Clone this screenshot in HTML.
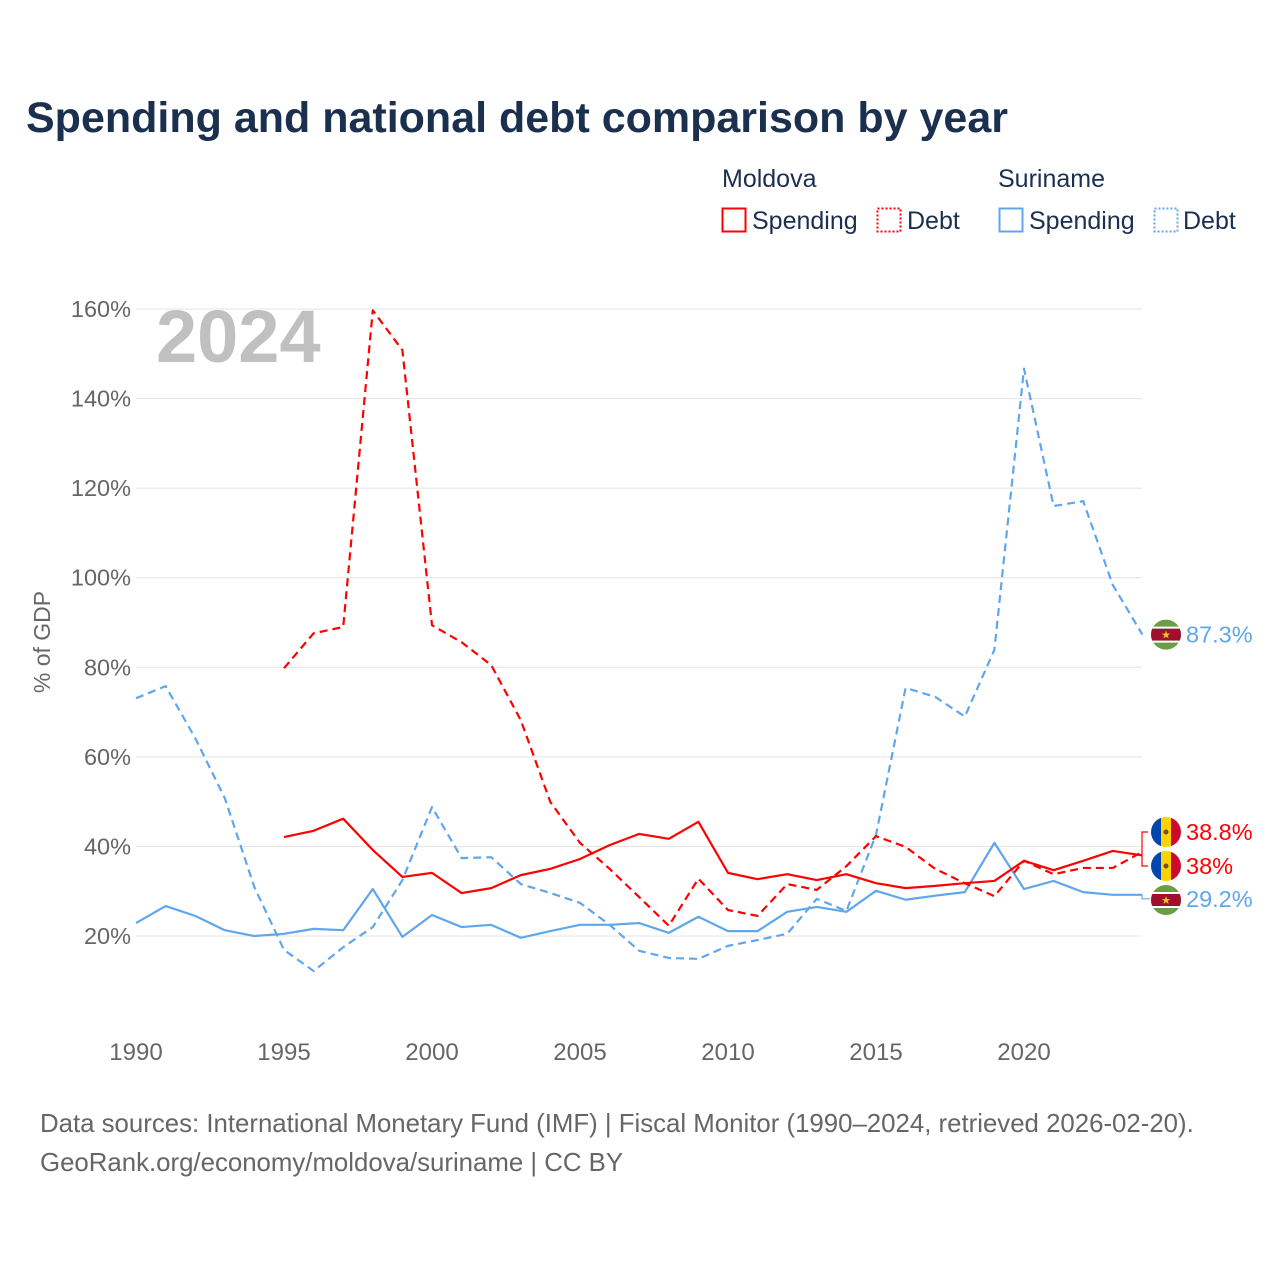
<!DOCTYPE html>
<html><head><meta charset="utf-8"><style>
html,body{margin:0;padding:0;background:#fff;}
body{width:1280px;height:1280px;overflow:hidden;font-family:"Liberation Sans",sans-serif;}
</style></head><body>
<svg id="chart" width="1280" height="1280" xmlns="http://www.w3.org/2000/svg" font-family="Liberation Sans, sans-serif">
<text x="26" y="132" font-size="43" font-weight="bold" fill="#1b2f4e">Spending and national debt comparison by year</text>
<g font-size="25" fill="#1b2f4e">
<text x="722" y="187">Moldova</text>
<text x="998" y="187">Suriname</text>
<g><rect x="722.5" y="208.5" width="23" height="23" fill="none" stroke="#f00" stroke-width="2"/><text x="752" y="229">Spending</text></g>
<g><rect x="877.5" y="208.5" width="23" height="23" fill="none" stroke="#f00" stroke-width="2" stroke-dasharray="2,2"/><text x="907" y="229">Debt</text></g>
<g><rect x="999.5" y="208.5" width="23" height="23" fill="none" stroke="#5fa6ec" stroke-width="2"/><text x="1029" y="229">Spending</text></g>
<g><rect x="1154.5" y="208.5" width="23" height="23" fill="none" stroke="#5fa6ec" stroke-width="2" stroke-dasharray="2,2"/><text x="1183" y="229">Debt</text></g>
</g>
<text x="156" y="362" font-size="74" font-weight="bold" fill="#c0c0c0">2024</text>
<text transform="translate(50,642) rotate(-90)" text-anchor="middle" font-size="23" fill="#666">% of GDP</text>
<g id="grid"></g><g id="yticks"></g><g id="xticks"></g><g id="series"></g><g id="endlabels"></g>
<text x="40" y="1132" font-size="25.8" fill="#666">Data sources: International Monetary Fund (IMF) | Fiscal Monitor (1990–2024, retrieved 2026-02-20).</text>
<text x="40" y="1171" font-size="25.8" fill="#666">GeoRank.org/economy/moldova/suriname | CC BY</text>
</svg>
<script>
const years=[];for(let y=1990;y<=2024;y++)years.push(y);
const yTicks=[20,40,60,80,100,120,140,160];
const xTicks=[1990,1995,2000,2005,2010,2015,2020];
const surDebt=[73.1,75.8,64.2,50.8,30.9,16.9,12.2,17.5,22,32.5,48.8,37.4,37.6,31.6,29.6,27.4,22.5,16.7,15.1,14.9,17.8,19.1,20.5,28.3,25.6,42.6,75.4,73.4,69,83.9,146.7,116,117.1,98.4,87.3];
const surSpend=[22.9,26.7,24.5,21.3,20,20.5,21.6,21.3,30.5,19.8,24.7,22,22.5,19.6,21.1,22.5,22.5,22.9,20.7,24.3,21.1,21.1,25.4,26.5,25.4,30.1,28.1,29,29.8,40.8,30.5,32.3,29.8,29.2,29.2];
const molYears=years.filter(y=>y>=1995);
const molSpend=[42.1,43.5,46.2,39.2,33.2,34.1,29.6,30.7,33.6,35,37.2,40.3,42.8,41.7,45.5,34.1,32.7,33.8,32.5,33.8,31.8,30.7,31.2,31.8,32.3,36.8,34.7,36.8,39,38];
const molDebt=[79.8,87.6,89,159.7,150.8,89.4,85.6,80.5,68.2,49.9,40.8,35,28.7,22.3,32.8,25.8,24.5,31.6,30.3,35.6,42.3,39.9,35,31.8,28.9,36.8,33.8,35.2,35.2,38.8];
const NS="http://www.w3.org/2000/svg";
const X=y=>136+(y-1990)*29.6;
const Y=v=>1025.6-v*4.4786;
function el(t,a,p){const e=document.createElementNS(NS,t);for(const k in a)e.setAttribute(k,a[k]);p.appendChild(e);return e;}
const grid=document.getElementById('grid'),yt=document.getElementById('yticks'),xt=document.getElementById('xticks');
yTicks.forEach(v=>{
 const l=el('line',{x1:136,x2:1142,y1:Y(v),y2:Y(v),stroke:'#e4e4e4','stroke-width':1},grid);
 
 
 const t=el('text',{x:131,y:Y(v)+8,'text-anchor':'end','font-size':23.5,fill:'#666'},yt);t.textContent=v+'%';
 
 
});
xTicks.forEach(y=>{
 const t=el('text',{x:X(y),y:1060,'text-anchor':'middle','font-size':24,fill:'#666'},xt);t.textContent=y;
 
 
});
const sg=document.getElementById('series');
function line(xs,vs,color,dash,name){
 const p=el('polyline',{points:xs.map((y,i)=>X(y)+','+Y(vs[i])).join(' '),fill:'none',stroke:color,'stroke-width':2.2,'stroke-linejoin':'round'},sg);
 if(dash)p.setAttribute('stroke-dasharray','8,5');
 
 
}
line(years,surSpend,'#5fa6ec',false,'series-suriname-spending');
line(years,surDebt,'#5fa6ec',true,'series-suriname-debt');
line(molYears,molSpend,'#f00',false,'series-moldova-spending');
line(molYears,molDebt,'#f00',true,'series-moldova-debt');
const eg=document.getElementById('endlabels');
function flag(cy,type,name){
 const g=el('g',{},eg);
 
 
 const cx=1166;
 const cp='cp'+Math.round(cy);
 const d=el('defs',{},g);const c=el('clipPath',{id:cp},d);el('circle',{cx:cx,cy:cy,r:15},c);
 const gg=el('g',{'clip-path':'url(#'+cp+')'},g);
 if(type==='md'){el('rect',{x:cx-15,y:cy-15,width:10,height:30,fill:'#0046ae'},gg);el('rect',{x:cx-5,y:cy-15,width:10,height:30,fill:'#ffd200'},gg);el('rect',{x:cx+5,y:cy-15,width:10,height:30,fill:'#cc092f'},gg);el('circle',{cx:cx,cy:cy,r:2.5,fill:'#7a4b2a'},gg);}
 else{el('rect',{x:cx-15,y:cy-15,width:30,height:30,fill:'#6a9e44'},gg);el('rect',{x:cx-15,y:cy-6,width:30,height:12,fill:'#a0102d'},gg);el('rect',{x:cx-15,y:cy-8,width:30,height:2,fill:'#fff'},gg);el('rect',{x:cx-15,y:cy+6,width:30,height:2,fill:'#fff'},gg);const s=el('text',{x:cx,y:cy+4,'text-anchor':'middle','font-size':11,fill:'#ecc81d'},gg);s.textContent='★';}
}
function lab(y,txt,color,name){const t=el('text',{x:1186,y:y+8,'font-size':23.5,fill:color},eg);t.textContent=txt;
 
 }
el('path',{d:'M1142 '+Y(38.5)+' V832 h6 M1142 '+Y(38.5)+' V866 h6',fill:'none',stroke:'#f00','stroke-width':1.2},eg);
el('path',{d:'M1142 '+Y(29.2)+' v4 h8',fill:'none',stroke:'#5fa6ec','stroke-width':1.2},eg);
flag(Y(87.3),'sr','flag-suriname-debt');lab(Y(87.3),'87.3%','#5fa6ec','end-label-suriname-debt');
flag(832,'md','flag-moldova-debt');lab(832,'38.8%','#f00','end-label-moldova-debt');
flag(866,'md','flag-moldova-spending');lab(866,'38%','#f00','end-label-moldova-spending');
flag(900,'sr','flag-suriname-spending');lab(899,'29.2%','#5fa6ec','end-label-suriname-spending');
</script>
</body></html>
